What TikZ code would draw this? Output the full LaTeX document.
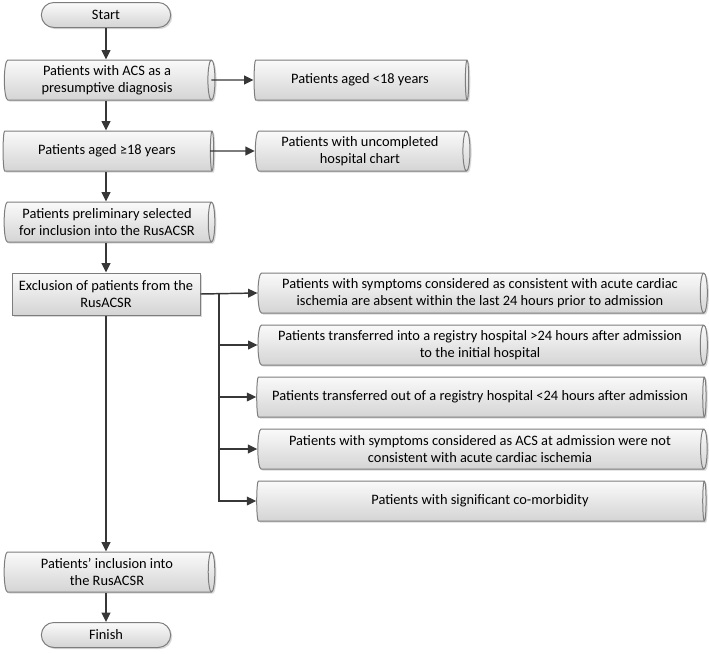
\documentclass[tikz,border=0pt]{standalone}
\usepackage{fontspec}
\setmainfont{Carlito}
\usetikzlibrary{shapes.geometric,shapes.misc,shadows,arrows.meta}

\definecolor{boxline}{RGB}{125,125,125}
\definecolor{boxtop}{RGB}{250,250,250}
\definecolor{boxbottom}{RGB}{212,212,212}
\definecolor{arrowline}{RGB}{55,55,55}

\tikzset{every picture/.style={line width=0.75pt}}
\tikzset{
  boxfill/.style={draw=boxline, top color=boxtop, bottom color=boxbottom,
    drop shadow={shadow xshift=1.2pt, shadow yshift=-1.2pt, opacity=0.3},
    font=\fontsize{10.8}{12.8}\selectfont, align=center, inner sep=1pt},
  cylbox/.style={boxfill, cylinder, shape aspect=0.22, minimum width=30pt},
  termbox/.style={boxfill, rounded rectangle, minimum width=99pt, minimum height=18.75pt},
  plainbox/.style={boxfill, rectangle, minimum width=141pt, minimum height=31.5pt},
  flowarrow/.style={draw=arrowline, line width=1.1pt, -{Triangle[length=7pt,width=6.5pt]}},
}

\begin{document}
\begin{tikzpicture}[x=0.75pt,y=0.75pt,yscale=-1,xscale=1]
\useasboundingbox (0,0) rectangle (709,653);

%Shape: Terminator [id:start]
\node [termbox] (start) at (106,15) {Start};
%Shape: Direct Data [id:presumptive]
\node [cylbox, minimum height=158pt] (pres) at (107,80) {Patients with ACS as a\\presumptive diagnosis};
%Shape: Direct Data [id:under18]
\node [cylbox, minimum height=161pt] (lt18) at (360,80) {Patients aged <18 years};
%Shape: Direct Data [id:aged18]
\node [cylbox, minimum height=158pt] (ge18) at (107,151) {Patients aged ≥18 years};
%Shape: Direct Data [id:uncompleted]
\node [cylbox, minimum height=161pt] (unc) at (360,151) {Patients with uncompleted\\hospital chart};
%Shape: Direct Data [id:preliminary]
\node [cylbox, minimum height=158pt] (prel) at (107,222) {Patients preliminary selected\\for inclusion into the RusACSR};
%Shape: Rectangle [id:exclusion]
\node [plainbox] (excl) at (106,294) {Exclusion of patients from the\\RusACSR};

%Shape: Direct Data [id:reason1]
\node [cylbox, minimum height=337pt] (ex1) at (480,293) {Patients with symptoms considered as consistent with acute cardiac\\ischemia are absent within the last 24 hours prior to admission};
%Shape: Direct Data [id:reason2]
\node [cylbox, minimum height=337pt] (ex2) at (480,345) {Patients transferred into a registry hospital >24 hours after admission\\to the initial hospital};
%Shape: Direct Data [id:reason3]
\node [cylbox, minimum height=337pt] (ex3) at (480,397) {Patients transferred out of a registry hospital <24 hours after admission};
%Shape: Direct Data [id:reason4]
\node [cylbox, minimum height=337pt] (ex4) at (480,449) {Patients with symptoms considered as ACS at admission were not\\consistent with acute cardiac ischemia};
%Shape: Direct Data [id:reason5]
\node [cylbox, minimum height=337pt] (ex5) at (480,501) {Patients with significant co-morbidity};

%Shape: Direct Data [id:inclusion]
\node [cylbox, minimum height=158pt] (incl) at (107,572) {Patients’ inclusion into\\the RusACSR};
%Shape: Terminator [id:finish]
\node [termbox] (finish) at (106,635) {Finish};

%Straight Lines [main column]
\draw [flowarrow] (start.south) -- (start.south |- pres.north);
\draw [flowarrow] (start.south |- pres.south) -- (start.south |- ge18.north);
\draw [flowarrow] (start.south |- ge18.south) -- (start.south |- prel.north);
\draw [flowarrow] (start.south |- prel.south) -- (excl.north);
\draw [flowarrow] (excl.south) -- (excl.south |- incl.north);
\draw [flowarrow] (excl.south |- incl.south) -- (finish.north);
%Straight Lines [side exits]
\draw [flowarrow] ([xshift=-3pt]pres.east) -- (lt18.west);
\draw [flowarrow] ([xshift=-3pt]ge18.east) -- (unc.west);
%Straight Lines [exclusion branch]
\coordinate (branch) at (219,294);
\draw [flowarrow] (excl.east) -- (ex1.west);
\foreach \i in {2,...,5}
  \draw [flowarrow] (branch) |- (ex\i.west);

\end{tikzpicture}
\end{document}
